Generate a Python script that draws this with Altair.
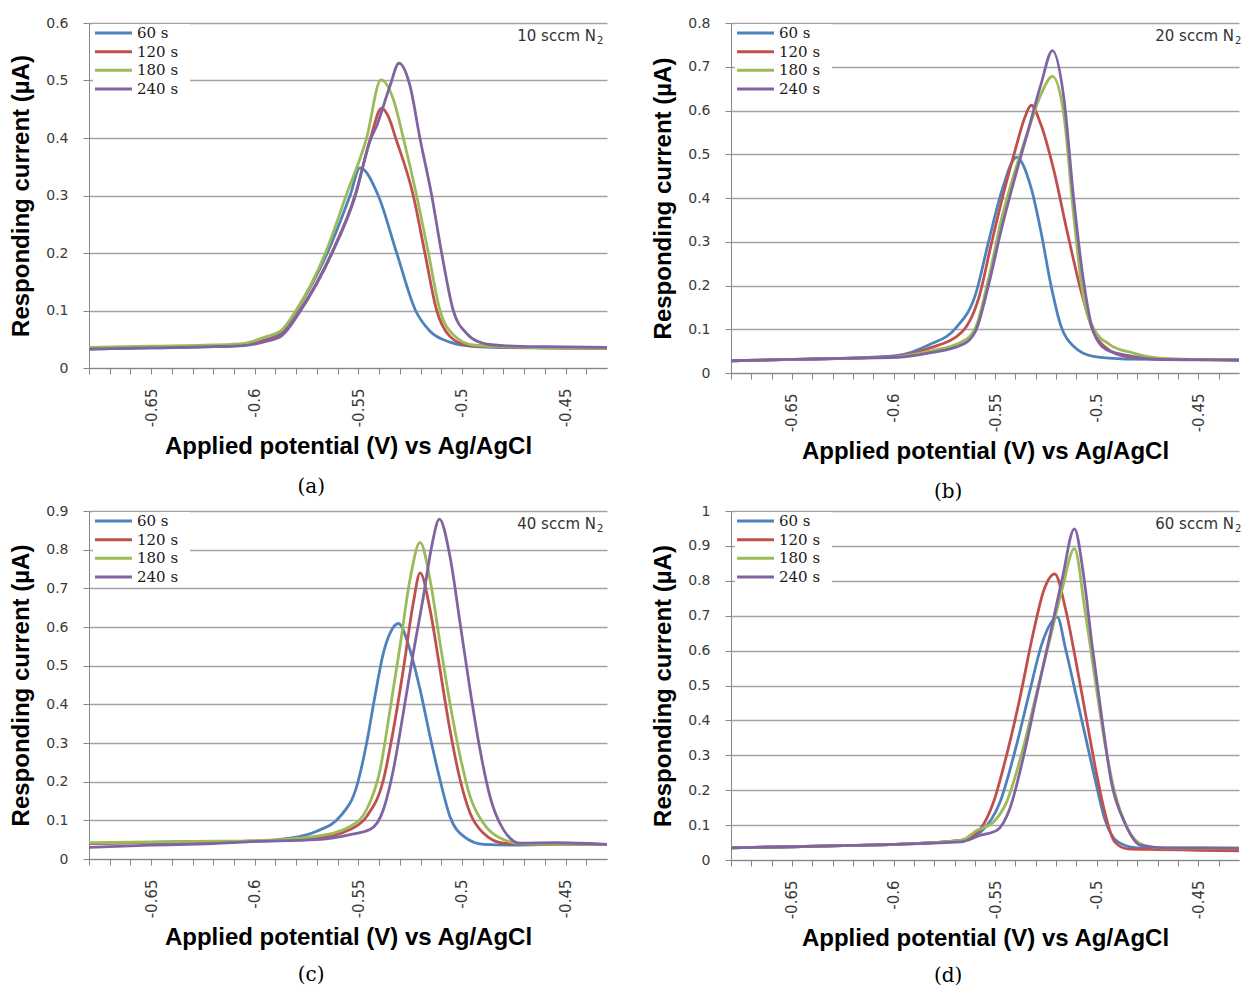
import altair as alt
import pandas as pd

SERIES = ["60 s", "120 s", "180 s", "240 s"]
COLORS = ["#4F81BD", "#C0504D", "#9BBB59", "#8064A2"]

X_TICKS = [-0.68, -0.67, -0.66, -0.65, -0.64, -0.63, -0.62, -0.61, -0.60, -0.59,
           -0.58, -0.57, -0.56, -0.55, -0.54, -0.53, -0.52, -0.51, -0.50, -0.49,
           -0.48, -0.47, -0.46, -0.45, -0.44]
Y_TICKS_06 = [0, 0.1, 0.2, 0.3, 0.4, 0.5, 0.6]
Y_TICKS_08 = [0, 0.1, 0.2, 0.3, 0.4, 0.5, 0.6, 0.7, 0.8]
Y_TICKS_09 = [0, 0.1, 0.2, 0.3, 0.4, 0.5, 0.6, 0.7, 0.8, 0.9]
Y_TICKS_10 = [0, 0.1, 0.2, 0.3, 0.4, 0.5, 0.6, 0.7, 0.8, 0.9, 1.0]

# ---- (a) 10 sccm N2 ----
A60_V = [-0.68, -0.65, -0.62, -0.605, -0.595, -0.587, -0.5798, -0.5650, -0.5540, -0.5492,
         -0.5404, -0.5315, -0.5224, -0.5154, -0.5058, -0.4961, -0.485, -0.46, -0.43]
A60_I = [0.033, 0.035, 0.037, 0.040, 0.049, 0.062, 0.100, 0.200, 0.300, 0.348,
         0.300, 0.200, 0.100, 0.064, 0.045, 0.038, 0.036, 0.035, 0.034]
A120_V = [-0.68, -0.65, -0.62, -0.605, -0.595, -0.587, -0.5782, -0.5629, -0.5516, -0.5441,
          -0.5388, -0.5355, -0.5320, -0.5235, -0.5179, -0.5122, -0.5058, -0.4977, -0.485, -0.46, -0.43]
A120_I = [0.034, 0.036, 0.038, 0.040, 0.048, 0.058, 0.100, 0.200, 0.300, 0.400,
          0.452, 0.437, 0.400, 0.300, 0.200, 0.100, 0.055, 0.040, 0.037, 0.035, 0.034]
A180_V = [-0.68, -0.65, -0.62, -0.605, -0.595, -0.587, -0.5801, -0.5659, -0.5559, -0.5460,
          -0.5391, -0.5331, -0.5283, -0.5219, -0.5162, -0.5106, -0.5042, -0.4945, -0.48, -0.46, -0.43]
A180_I = [0.036, 0.038, 0.040, 0.043, 0.054, 0.066, 0.100, 0.200, 0.300, 0.400,
          0.501, 0.467, 0.400, 0.300, 0.200, 0.100, 0.058, 0.040, 0.037, 0.035, 0.034]
A240_V = [-0.68, -0.65, -0.62, -0.605, -0.595, -0.587, -0.5782, -0.5629, -0.5516, -0.5441,
          -0.5412, -0.5347, -0.5304, -0.5251, -0.5203, -0.5146, -0.5098, -0.5042, -0.4977,
          -0.4897, -0.48, -0.46, -0.43]
A240_I = [0.033, 0.035, 0.037, 0.039, 0.046, 0.056, 0.098, 0.198, 0.298, 0.398,
          0.421, 0.491, 0.530, 0.491, 0.400, 0.300, 0.200, 0.100, 0.060,
          0.043, 0.039, 0.037, 0.036]

# ---- (b) 20 sccm N2 ----
B60_V = [-0.68, -0.65, -0.62, -0.598, -0.5822, -0.5693, -0.5597, -0.5532, -0.5468, -0.5395,
         -0.5323, -0.5275, -0.5226, -0.5178, -0.5114, -0.5017, -0.4856, -0.46, -0.43]
B60_I = [0.028, 0.031, 0.034, 0.040, 0.065, 0.103, 0.179, 0.301, 0.415, 0.493,
         0.423, 0.324, 0.202, 0.110, 0.061, 0.038, 0.032, 0.031, 0.030]
B120_V = [-0.68, -0.65, -0.62, -0.598, -0.5822, -0.5661, -0.5581, -0.5516, -0.5452, -0.5403,
          -0.5355, -0.5323, -0.5275, -0.5210, -0.5146, -0.5081, -0.5017, -0.4952, -0.4856,
          -0.4695, -0.45, -0.43]
B120_I = [0.028, 0.031, 0.034, 0.038, 0.057, 0.095, 0.171, 0.301, 0.423, 0.507,
          0.583, 0.612, 0.568, 0.461, 0.324, 0.194, 0.095, 0.057, 0.038,
          0.032, 0.031, 0.030]
B180_V = [-0.68, -0.65, -0.62, -0.598, -0.5822, -0.5661, -0.5597, -0.5532, -0.5468, -0.5403,
          -0.5339, -0.5275, -0.5218, -0.5162, -0.5114, -0.5065, -0.5017, -0.4936, -0.4824,
          -0.4695, -0.45, -0.43]
B180_I = [0.028, 0.031, 0.034, 0.037, 0.050, 0.072, 0.103, 0.217, 0.354, 0.461,
          0.552, 0.636, 0.678, 0.590, 0.362, 0.171, 0.103, 0.065, 0.046,
          0.034, 0.031, 0.030]
B240_V = [-0.68, -0.65, -0.62, -0.598, -0.5822, -0.5661, -0.5597, -0.5532, -0.5468, -0.5403,
          -0.5339, -0.5275, -0.5218, -0.5162, -0.5114, -0.5065, -0.5017, -0.4952, -0.4824,
          -0.4695, -0.45, -0.43]
B240_I = [0.028, 0.031, 0.034, 0.036, 0.046, 0.065, 0.095, 0.202, 0.331, 0.446,
          0.552, 0.659, 0.737, 0.629, 0.400, 0.210, 0.095, 0.053, 0.038,
          0.031, 0.030, 0.029]

# ---- (c) 40 sccm N2 ----
C60_V = [-0.68, -0.65, -0.62, -0.602, -0.583, -0.5701, -0.5588, -0.5508, -0.546, -0.542,
         -0.5379, -0.5347, -0.5307, -0.5251, -0.5202, -0.5154, -0.5106, -0.5058, -0.4993,
         -0.4897, -0.4736, -0.45, -0.43]
C60_I = [0.040, 0.043, 0.045, 0.046, 0.054, 0.072, 0.110, 0.188, 0.300, 0.421,
         0.533, 0.584, 0.609, 0.541, 0.438, 0.317, 0.205, 0.110, 0.059,
         0.038, 0.036, 0.038, 0.038]
C120_V = [-0.68, -0.65, -0.62, -0.602, -0.5701, -0.554, -0.546, -0.5379, -0.5331, -0.5283,
          -0.5235, -0.5202, -0.5154, -0.5106, -0.5058, -0.5009, -0.4961, -0.4897, -0.48,
          -0.46, -0.43]
C120_I = [0.040, 0.043, 0.045, 0.046, 0.054, 0.076, 0.110, 0.205, 0.334, 0.490,
          0.662, 0.740, 0.645, 0.490, 0.334, 0.205, 0.119, 0.067, 0.041,
          0.038, 0.038]
C180_V = [-0.68, -0.65, -0.62, -0.602, -0.5701, -0.554, -0.546, -0.5395, -0.5347, -0.5299,
          -0.5251, -0.5202, -0.5154, -0.5106, -0.5058, -0.5009, -0.4961, -0.4897, -0.4816,
          -0.4704, -0.45, -0.43]
C180_I = [0.042, 0.044, 0.046, 0.047, 0.059, 0.084, 0.128, 0.231, 0.386, 0.550,
          0.722, 0.819, 0.722, 0.559, 0.403, 0.266, 0.162, 0.093, 0.054,
          0.039, 0.038, 0.038]
C240_V = [-0.68, -0.65, -0.62, -0.602, -0.5701, -0.554, -0.5444, -0.5379, -0.5331, -0.5283,
          -0.5235, -0.5186, -0.5146, -0.5109, -0.5058, -0.5009, -0.4961, -0.4913, -0.4865,
          -0.48, -0.472, -0.455, -0.43]
C240_I = [0.030, 0.036, 0.040, 0.045, 0.050, 0.063, 0.076, 0.128, 0.231, 0.378,
          0.533, 0.679, 0.809, 0.879, 0.783, 0.610, 0.438, 0.283, 0.162,
          0.076, 0.041, 0.042, 0.038]

# ---- (d) 60 sccm N2 ----
D60_V = [-0.68, -0.65, -0.62, -0.599, -0.5669, -0.5572, -0.5476, -0.5395, -0.5331, -0.5267,
         -0.5194, -0.5154, -0.5105, -0.5057, -0.5009, -0.4961, -0.4896, -0.48, -0.46, -0.43]
D60_I = [0.035, 0.038, 0.042, 0.045, 0.056, 0.080, 0.166, 0.329, 0.481, 0.625,
         0.696, 0.606, 0.481, 0.357, 0.233, 0.118, 0.052, 0.035, 0.034, 0.033]
D120_V = [-0.68, -0.65, -0.62, -0.599, -0.5669, -0.5572, -0.5508, -0.5444, -0.5379, -0.5315,
          -0.5258, -0.5207, -0.5154, -0.5105, -0.5057, -0.5009, -0.4961, -0.4912, -0.4848,
          -0.47, -0.45, -0.43]
D120_I = [0.035, 0.038, 0.042, 0.045, 0.056, 0.090, 0.166, 0.300, 0.462, 0.644,
          0.777, 0.820, 0.720, 0.577, 0.424, 0.271, 0.138, 0.052, 0.032,
          0.030, 0.028, 0.026]
D180_V = [-0.68, -0.65, -0.62, -0.599, -0.5669, -0.5589, -0.5508, -0.5444, -0.5363, -0.5299,
          -0.5234, -0.5170, -0.5110, -0.5057, -0.5009, -0.4961, -0.4912, -0.4848, -0.4767,
          -0.467, -0.45, -0.43]
D180_I = [0.035, 0.038, 0.042, 0.045, 0.056, 0.085, 0.109, 0.166, 0.319, 0.472,
          0.625, 0.777, 0.892, 0.711, 0.520, 0.338, 0.195, 0.090, 0.042,
          0.034, 0.034, 0.034]
D240_V = [-0.68, -0.65, -0.62, -0.599, -0.5669, -0.5572, -0.5492, -0.5428, -0.5363, -0.5299,
          -0.5234, -0.5170, -0.5110, -0.5065, -0.5025, -0.4977, -0.4928, -0.4864, -0.4783,
          -0.467, -0.45, -0.43]
D240_I = [0.035, 0.038, 0.042, 0.045, 0.052, 0.071, 0.085, 0.147, 0.290, 0.462,
          0.634, 0.806, 0.949, 0.816, 0.625, 0.415, 0.223, 0.109, 0.042,
          0.035, 0.035, 0.034]

AXIS_GRAY = "#868686"
GRID_GRAY = "#a3a3a3"
TICK_FONT = "DejaVu Sans"
TITLE_FONT = "Liberation Sans"

color_scale = alt.Scale(domain=SERIES, range=COLORS)


def curves_frame(curves):
    rows = []
    for name, (vs, cs) in zip(SERIES, curves):
        for v, c in zip(vs, cs):
            rows.append({"V": v, "I": c, "series": name})
    return pd.DataFrame(rows)


def panel(curves, ymax, yticks, flow, caption, width, height, note_dx, cap_offset):
    x_enc = alt.X(
        "V:Q",
        scale=alt.Scale(domain=[-0.68, -0.43], nice=False, zero=False),
        axis=alt.Axis(
            values=X_TICKS,
            labelExpr="(round(datum.value*1000) % 50 == 0) ? "
                      "replace(format(datum.value, '.2~f'), '\u2212', '-') : ''",
            labelAngle=270,
            labelOverlap=False,
            labelFlush=False,
            labelPadding=14,
            labelFont=TICK_FONT,
            labelFontSize=15,
            labelColor="#3a3a3a",
            tickSize=6,
            tickColor=AXIS_GRAY,
            domainColor=AXIS_GRAY,
            grid=False,
            title="Applied potential (V) vs Ag/AgCl",
            titleFont=TITLE_FONT,
            titleFontSize=24,
            titleFontWeight="bold",
            titleColor="black",
            titlePadding=8,
        ),
    )
    y_enc = alt.Y(
        "I:Q",
        scale=alt.Scale(domain=[0, ymax], nice=False),
        axis=alt.Axis(
            values=yticks,
            format=".1~f",
            labelPadding=15,
            labelFont=TICK_FONT,
            labelFontSize=14,
            labelColor="#3a3a3a",
            tickSize=6,
            tickColor=AXIS_GRAY,
            domainColor=AXIS_GRAY,
            grid=True,
            gridColor=GRID_GRAY,
            gridWidth=1.3,
            title="Responding current (\u00b5A)",
            titleFont=TITLE_FONT,
            titleFontSize=24,
            titleFontWeight="bold",
            titleColor="black",
            titlePadding=12,
        ),
    )

    lines = alt.Chart(curves_frame(curves)).mark_line(
        strokeWidth=2.8, interpolate="monotone"
    ).encode(
        x=x_enc,
        y=y_enc,
        color=alt.Color("series:N", scale=color_scale, legend=None),
    )

    # legend drawn inside the plot, top-left, on a white box over the grid
    box = alt.Chart(pd.DataFrame({"k": [0]})).mark_rect(color="white").encode(
        x=alt.value(4), x2=alt.value(101), y=alt.value(1), y2=alt.value(75)
    )
    key = pd.DataFrame({"series": SERIES, "slot": [0, 1, 2, 3]})
    slot = alt.YOffset("slot:Q", scale=alt.Scale(domain=[0, 3], range=[0, 56]))
    key_lines = alt.Chart(key).mark_rule(strokeWidth=3).encode(
        x=alt.value(6), x2=alt.value(43), y=alt.value(10), yOffset=slot,
        color=alt.Color("series:N", scale=color_scale, legend=None),
    )
    key_text = alt.Chart(key).mark_text(
        align="left", baseline="middle", font="DejaVu Serif", fontSize=15, color="#1a1a1a"
    ).encode(x=alt.value(48), y=alt.value(10), yOffset=slot, text="series:N")

    # flow-rate note, top-right, with subscript
    note = alt.Chart(pd.DataFrame({"t": [flow]})).mark_text(
        align="right", baseline="middle", font=TICK_FONT, fontSize=15, color="#333333"
    ).encode(x=alt.value(width - note_dx), y=alt.value(13), text="t:N")
    sub = alt.Chart(pd.DataFrame({"t": ["2"]})).mark_text(
        align="left", baseline="middle", font=TICK_FONT, fontSize=10, color="#333333"
    ).encode(x=alt.value(width - note_dx + 1), y=alt.value(18), text="t:N")

    return alt.layer(lines, box, key_lines, key_text, note, sub).properties(
        width=width,
        height=height,
        title=alt.TitleParams(
            text=caption,
            orient="bottom",
            anchor="middle",
            frame="bounds",
            font="DejaVu Serif",
            fontSize=20,
            fontWeight="normal",
            color="black",
            offset=cap_offset,
        ),
    )


pa = panel([(A60_V, A60_I), (A120_V, A120_I), (A180_V, A180_I), (A240_V, A240_I)],
           0.6, Y_TICKS_06, "10 sccm N", "(a)", 518, 345, 11, 18)
pb = panel([(B60_V, B60_I), (B120_V, B120_I), (B180_V, B180_I), (B240_V, B240_I)],
           0.8, Y_TICKS_08, "20 sccm N", "(b)", 508, 350, 5, 18)
pc = panel([(C60_V, C60_I), (C120_V, C120_I), (C180_V, C180_I), (C240_V, C240_I)],
           0.9, Y_TICKS_09, "40 sccm N", "(c)", 518, 348, 11, 15)
pd_ = panel([(D60_V, D60_I), (D120_V, D120_I), (D180_V, D180_I), (D240_V, D240_I)],
            1.0, Y_TICKS_10, "60 sccm N", "(d)", 508, 349, 5, 15)

chart = alt.vconcat(
    alt.hconcat(pa, pb, spacing=37),
    alt.hconcat(pc, pd_, spacing=37),
    spacing=0,
).properties(
    padding={"left": 9, "top": 15, "right": 0, "bottom": 0},
    background="white",
).configure_view(stroke="transparent")

chart.save("out.html", embed_options={"renderer": "svg", "actions": False})
